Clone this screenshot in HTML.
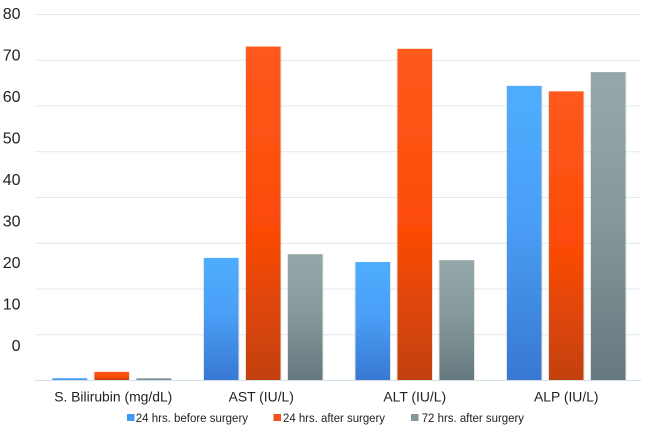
<!DOCTYPE html>
<html>
<head>
<meta charset="utf-8">
<style>
html,body{margin:0;padding:0;background:#fff;width:646px;height:434px;overflow:hidden}
svg{display:block;font-family:"Liberation Sans",sans-serif}
</style>
</head>
<body>
<svg id="chart" width="646" height="434" viewBox="0 0 646 434" xmlns="http://www.w3.org/2000/svg">
<defs>
<linearGradient id="g0" x1="0" y1="0" x2="0" y2="1"><stop offset="0" stop-color="#4fadff"/><stop offset=".45" stop-color="#4a9ff6"/><stop offset="1" stop-color="#3878d2"/></linearGradient>
<linearGradient id="g1" x1="0" y1="0" x2="0" y2="1"><stop offset="0" stop-color="#ff5a1e"/><stop offset=".55" stop-color="#fb4a06"/><stop offset="1" stop-color="#c24108"/></linearGradient>
<linearGradient id="g2" x1="0" y1="0" x2="0" y2="1"><stop offset="0" stop-color="#95a7a9"/><stop offset=".45" stop-color="#869a9c"/><stop offset="1" stop-color="#66787e"/></linearGradient>
<filter id="soft" x="-10%" y="-10%" width="120%" height="120%"><feGaussianBlur stdDeviation="0.35"/></filter>
<filter id="softText" x="-5%" y="-5%" width="110%" height="110%"><feGaussianBlur stdDeviation="0.25"/></filter>
</defs>
<g id="grid"></g>
<g id="bars" filter="url(#soft)"></g>
<g id="axis" fill="#222" filter="url(#softText)"></g>
<g id="legend" fill="#222" filter="url(#softText)"></g>
</svg>
<script>
var categories = ["S. Bilirubin (mg/dL)", "AST (IU/L)", "ALT (IU/L)", "ALP (IU/L)"];
var seriesNames = ["24 hrs. before surgery", "24 hrs. after surgery", "72 hrs. after surgery"];
var before24 = [0.5, 26.8, 25.9, 64.4];
var after24 = [1.9, 73, 72.5, 63.2];
var after72 = [0.5, 27.6, 26.3, 67.4];
var gridValues = [0, 10, 20, 30, 40, 50, 60, 70, 80];
var tickLabels = ["80", "70", "60", "50", "40", "30", "20", "10", "0"];

var NS = "http://www.w3.org/2000/svg";
var plotLeft = 36, plotRight = 642, plotTop = 14.5, plotBottom = 380.5, axisMax = 80;
var gridLeft = 35, gridRight = 641;
var barWidth = 34.5, barStep = 42;
var allSeries = [before24, after24, after72];
var seriesFill = ["url(#g0)", "url(#g1)", "url(#g2)"];
var legendFill = ["#3f9bf0", "#f4511a", "#84979a"];
var seriesKey = ["before-24h", "after-24h", "after-72h"];

function yScale(v) { return plotBottom - (v / axisMax) * (plotBottom - plotTop); }
function groupCenter(i) { return plotLeft + (plotRight - plotLeft) / categories.length * (i + 0.5); }
function tickY(i) { return 13 + i * 41.5; }
function make(tag, attrs, parent) {
  var el = document.createElementNS(NS, tag);
  for (var k in attrs) el.setAttribute(k, attrs[k]);
  parent.appendChild(el);
  return el;
}

var gridG = document.getElementById("grid");
var barsG = document.getElementById("bars");
var axisG = document.getElementById("axis");
var legendG = document.getElementById("legend");

gridValues.forEach(function (v) {
  var line = make("line", {x1: gridLeft, x2: gridRight, y1: yScale(v), y2: yScale(v), stroke: "#dfeaf0", "stroke-width": 1.1}, gridG);
  
  
});

allSeries.forEach(function (values, s) {
  values.forEach(function (v, c) {
    var x = groupCenter(c) + (s - 1) * barStep - barWidth / 2;
    var y = yScale(v);
    var h = Math.max(plotBottom - y, 0);
    make("rect", {x: x - 1, y: y, width: barWidth + 2, height: h, fill: "#000", opacity: 0.10}, barsG);
    var bar = make("rect", {x: x, y: y, width: barWidth, height: h, fill: seriesFill[s]}, barsG);
    
    
  });
});

var base = make("line", {x1: gridLeft, x2: gridRight, y1: plotBottom, y2: plotBottom, stroke: "#cfe0ea", "stroke-width": 1.1}, axisG);



tickLabels.forEach(function (t, i) {
  var label = make("text", {x: 20.5, y: tickY(i) + 6, "text-anchor": "end", "font-size": 16}, axisG);
  label.textContent = t;
  
  
});

var labelNudge = [1.5, -2, 0, 0];
categories.forEach(function (name, i) {
  var label = make("text", {x: groupCenter(i) + labelNudge[i], y: 401.5, "text-anchor": "middle", "font-size": 13.9}, axisG);
  label.textContent = name;
  
  
});

var legendSwatchX = [127, 273.5, 411];
var legendTextX = [135.8, 283, 421.7];
var legendTextW = [112.2, 102, 102.3];
seriesNames.forEach(function (name, i) {
  var swatch = make("rect", {x: legendSwatchX[i], y: 414, width: 7.5, height: 7, fill: legendFill[i]}, legendG);
  
  
  var text = make("text", {x: legendTextX[i], y: 422, "font-size": 12.4, textLength: legendTextW[i], lengthAdjust: "spacingAndGlyphs"}, legendG);
  text.textContent = name;
  
  
});
</script>
</body>
</html>
